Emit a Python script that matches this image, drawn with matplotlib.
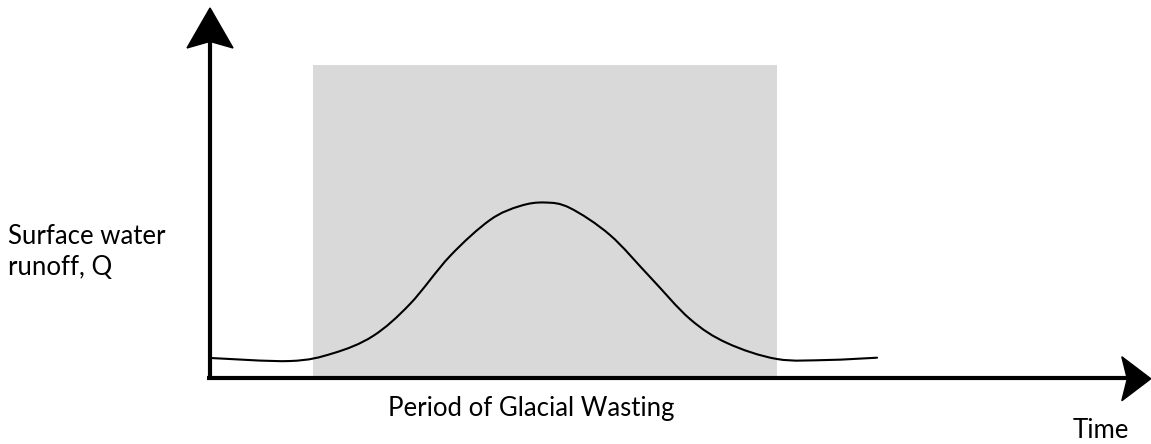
import numpy as np
import matplotlib
matplotlib.use('Agg')
import matplotlib.pyplot as plt
from matplotlib.patches import Polygon, PathPatch
from matplotlib.path import Path
from matplotlib.transforms import IdentityTransform

plt.rcParams['font.family'] = ['Lato', 'DejaVu Sans']

# runoff curve (time, Q) in arbitrary units
time = [0.1, 8.53, 13.11, 17.38, 21.32, 25.59, 29.85, 33.05, 35.71, 38.38,
        42.64, 46.91, 51.17, 55.12, 60.45, 65.78, 71.11]
runoff = [5.46, 4.64, 6.75, 11.48, 20.22, 33.33, 43.17, 46.99, 47.95, 46.45,
          39.07, 27.6, 16.12, 9.56, 5.19, 4.92, 5.55]

# period of glacial wasting (time span) and shaded height
wasting_start, wasting_end = 11.0, 60.5
shade_top = 85.5

x_label = 'Time'
y_label = 'Surface water\nrunoff, Q'
period_label = 'Period of Glacial Wasting'

fig = plt.figure(figsize=(11.51, 4.44), dpi=100)
ax = fig.add_axes([0, 0, 1, 1])
ax.set_xlim(-22.39, 100.32)
ax.set_ylim(-18.03, 103.28)
ax.axis('off')

ax.fill_between([wasting_start, wasting_end], 0, shade_top, color='#d9d9d9', lw=0)

# smooth bezier path through the read points (catmull-rom style handles)
pts = np.column_stack([time, runoff])
verts = [pts[0]]
codes = [Path.MOVETO]
for i in range(len(pts) - 1):
    p0 = pts[max(i - 1, 0)]
    p1 = pts[i]
    p2 = pts[i + 1]
    p3 = pts[min(i + 2, len(pts) - 1)]
    verts += [p1 + (p2 - p0) / 6, p2 - (p3 - p1) / 6, p2]
    codes += [Path.CURVE4] * 3
ax.add_patch(PathPatch(Path(verts, codes), fill=False, edgecolor='black', lw=1.5,
                       capstyle='round'))

# axis lines
y_tip = (0, 101.1)
x_tip = (100.3, -0.2)
ax.plot([0, 0], [-0.6, y_tip[1] - 8], color='black', lw=3, solid_capstyle='butt')
ax.plot([-0.3, x_tip[0] - 2.5], [0, 0], color='black', lw=3, solid_capstyle='butt')

# swept-back arrow heads, shapes in pixels relative to the tip
fig.canvas.draw()
tx, ty = ax.transData.transform(y_tip)
head_up = np.array([[0, 0], [23, -40], [2, -34], [0, -33.5], [-2, -34], [-23, -40]])
ax.add_patch(Polygon(head_up + [tx, ty], closed=True, color='black',
                     transform=IdentityTransform()))
tx, ty = ax.transData.transform(x_tip)
head_right = np.array([[0, 0], [-29, 22], [-24, 2], [-23.5, 0], [-24, -2], [-29, -22]])
ax.add_patch(Polygon(head_right + [tx, ty], closed=True, color='black',
                     transform=IdentityTransform()))

fig.text(8 / 1151, 1 - 252 / 444, y_label, fontsize=18.5, ha='left', va='center',
         linespacing=1.32)
fig.text(531 / 1151, 1 - 408 / 444, period_label, fontsize=18.5, ha='center', va='center')
fig.text(1101 / 1151, 1 - 430 / 444, x_label, fontsize=18.5, ha='center', va='center')

fig.savefig('out.png', dpi=100)
plt.close(fig)
